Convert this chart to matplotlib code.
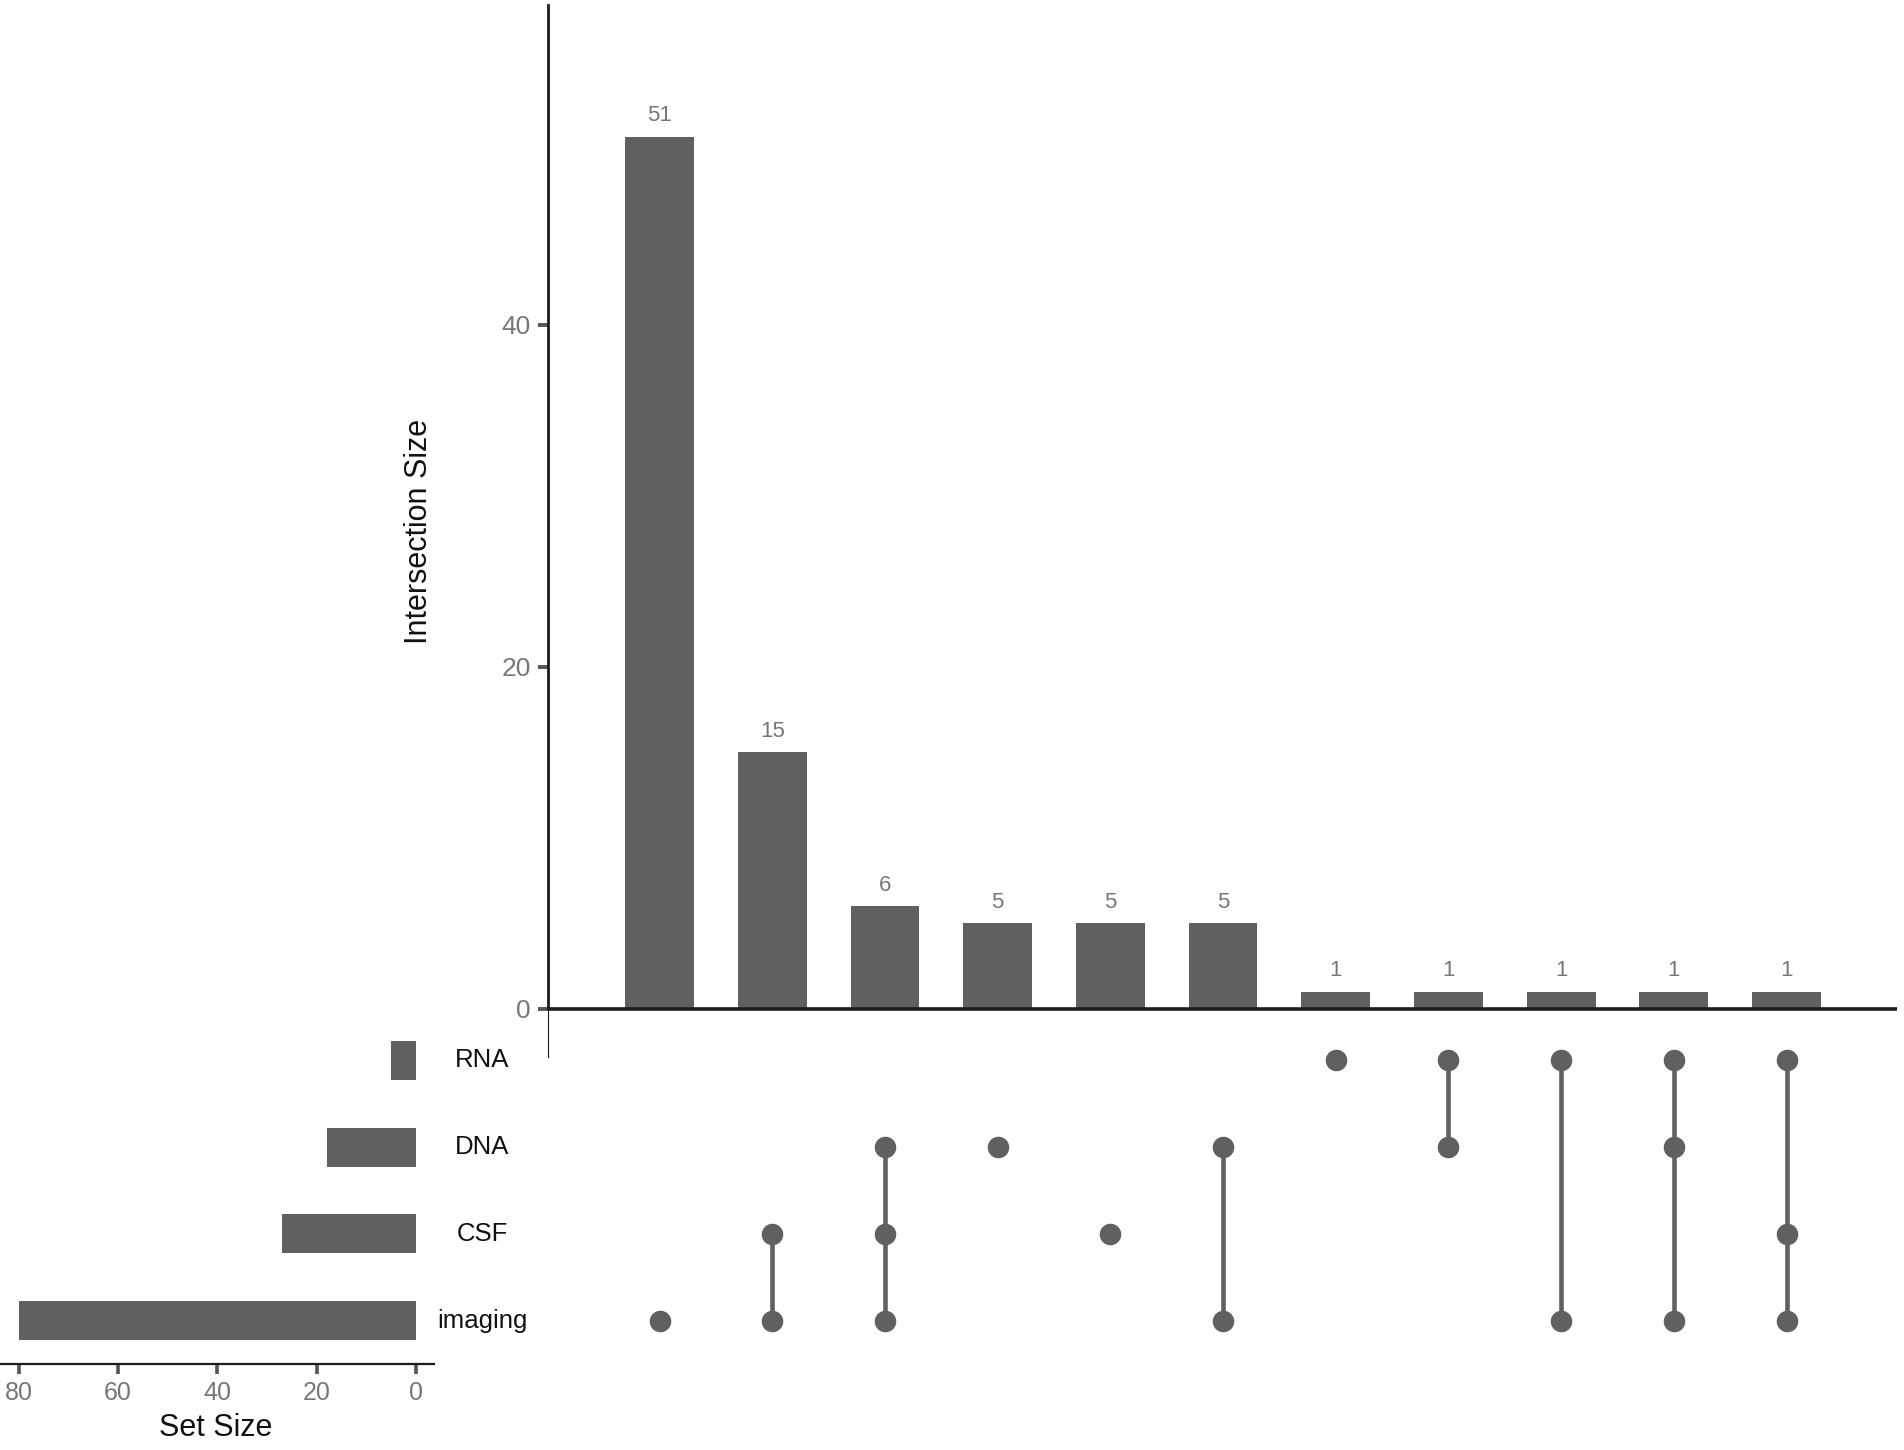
import matplotlib
matplotlib.use("Agg")
import matplotlib.pyplot as plt
import matplotlib.transforms as mtransforms
import numpy as np

plt.rcParams['font.family'] = ['Liberation Sans', 'DejaVu Sans']

# sets, bottom row to top row
set_names = ["imaging", "CSF", "DNA", "RNA"]
set_sizes = [80, 27, 18, 5]

# intersections, in plotted order
intersections = [
    ["imaging"],
    ["CSF", "imaging"],
    ["DNA", "CSF", "imaging"],
    ["DNA"],
    ["CSF"],
    ["DNA", "imaging"],
    ["RNA"],
    ["RNA", "DNA"],
    ["RNA", "imaging"],
    ["RNA", "DNA", "imaging"],
    ["RNA", "CSF", "imaging"],
]
intersection_sizes = [51, 15, 6, 5, 5, 5, 1, 1, 1, 1, 1]

bar_col = "#5f6062"
tick_col = "#777777"
axis_col = "#1c1c1c"

W, H = 1904, 1450
fig = plt.figure(figsize=(W / 100, H / 100), dpi=100)

def px_axes(left, top, right, bottom):
    return fig.add_axes([left / W, 1 - bottom / H, (right - left) / W, (bottom - top) / H])

# ---- intersection size bars
ax = px_axes(548, 5, 1897, 1057)
xs = np.arange(len(intersection_sizes))
bars = ax.bar(xs, intersection_sizes, width=0.61, color=bar_col)
ax.bar_label(bars, labels=[str(v) for v in intersection_sizes], padding=7.5,
             fontsize=16, color=tick_col)
ax.set_xlim(-0.99, 10.98)
ax.set_ylim(-2.81, 58.7)
ax.axhline(0, color=axis_col, lw=2.6, zorder=3)
for s in ["top", "right", "bottom"]:
    ax.spines[s].set_visible(False)
ax.spines["left"].set_bounds(0, 58.7)
ax.spines["left"].set_linewidth(2.0)
ax.spines["left"].set_color(axis_col)
ax.plot([0, 0], [0, 1], transform=ax.transAxes, color=axis_col, lw=0.8, clip_on=False)
ax.set_xticks([])
ax.set_yticks([0, 20, 40])
ax.tick_params(axis="y", length=7, width=2.8, color="#555555", labelcolor=tick_col,
               labelsize=19, pad=5.5)
ax.set_ylabel("Intersection Size", fontsize=22, color="#111111", va="center")
ax.yaxis.set_label_coords(-0.0956, 0.5)

# ---- matrix of dots
axm = px_axes(548, 1017, 1897, 1364)
axm.set_xlim(-0.99, 10.98)
axm.set_ylim(-0.5, 3.5)
for i, members in enumerate(intersections):
    rows = [set_names.index(m) for m in members]
    if len(rows) > 1:
        axm.plot([i, i], [min(rows), max(rows)], color=bar_col, lw=3.3, zorder=2)
    axm.plot([i] * len(rows), rows, "o", color=bar_col, markersize=14.5, zorder=3)
axm.axis("off")
lab_tr = mtransforms.blended_transform_factory(fig.transFigure, axm.transData)
for r, name in enumerate(set_names):
    axm.text(482 / W, r, name, transform=lab_tr, ha="center", va="center",
             fontsize=18.5, color="#111111")

# ---- set size bars
axs = px_axes(0, 1017, 434, 1364)
axs.barh(np.arange(len(set_sizes)), set_sizes, height=0.45, color=bar_col)
axs.set_xlim(83.8, -3.6)
axs.set_ylim(-0.5, 3.5)
for s in ["top", "right", "left"]:
    axs.spines[s].set_visible(False)
axs.spines["bottom"].set_linewidth(1.6)
axs.spines["bottom"].set_color(axis_col)
axs.set_yticks([])
axs.set_xticks([80, 60, 40, 20, 0])
axs.tick_params(axis="x", length=7, width=2.6, color="#555555", labelcolor=tick_col,
                labelsize=18, pad=5)
axs.set_xlabel("Set Size", fontsize=22, color="#111111")
axs.xaxis.set_label_coords(0.498, -0.185)
axs.xaxis.label.set_va("center")

fig.savefig("out.png", dpi=100)
